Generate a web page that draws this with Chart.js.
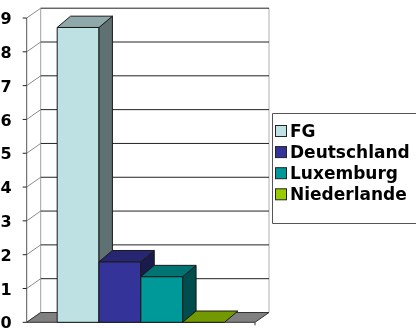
<!DOCTYPE html>
<html>
<head>
<meta charset="utf-8">
<script src="https://cdn.jsdelivr.net/npm/chart.js"></script>
<style>
  body { margin: 0; background: #fff; }
  #box { width: 416px; height: 328px; }
</style>
</head>
<body>
<div id="box"><canvas id="myBarChart"></canvas></div>
<script>
// ---------------- data ----------------
const seriesNames = ['FG', 'Deutschland', 'Luxemburg', 'Niederlande'];
const seriesValues = [8.72, 1.79, 1.35, 0];
const seriesColors = ['#bee1e4', '#333399', '#009999', '#99cc00'];
const yMin = 0;
const yMax = 9;
const yStep = 1;

// ---------------- 3d look ----------------
const WALL = { dx: 14, dy: 9.8 };
const BAR = { dx: 13.4, dy: 11.3 };

function shade(hex, f) {
    const n = parseInt(hex.slice(1), 16);
    const r = Math.round(((n >> 16) & 255) * f);
    const g = Math.round(((n >> 8) & 255) * f);
    const b = Math.round((n & 255) * f);
    return `rgb(${r},${g},${b})`;
}

function poly(ctx, pts, fill, stroke) {
    ctx.beginPath();
    ctx.moveTo(pts[0][0], pts[0][1]);
    for (let i = 1; i < pts.length; i++) ctx.lineTo(pts[i][0], pts[i][1]);
    ctx.closePath();
    if (fill) { ctx.fillStyle = fill; ctx.fill(); }
    if (stroke) { ctx.strokeStyle = stroke; ctx.lineWidth = 1; ctx.stroke(); }
}

function line(ctx, x1, y1, x2, y2, color) {
    ctx.beginPath();
    ctx.moveTo(x1, y1);
    ctx.lineTo(x2, y2);
    ctx.strokeStyle = color;
    ctx.lineWidth = 1;
    ctx.stroke();
}

const threeD = {
    id: 'threeD',
    beforeDatasetsDraw(chart) {
        const { ctx, chartArea: a, scales: { y } } = chart;
        const bx1 = a.left + WALL.dx, bx2 = a.right + WALL.dx;
        const top = y.getPixelForValue(yMax), bottom = y.getPixelForValue(yMin);
        ctx.save();
        // wall edges and the front axis line
        line(ctx, bx1, top - WALL.dy, bx1, bottom - WALL.dy, '#a0a0a0');
        line(ctx, bx2, top - WALL.dy, bx2, bottom - WALL.dy, '#b0b0b0');
        line(ctx, a.left, top, a.left, bottom, '#555');
        for (let v = yMin; v <= yMax; v += yStep) {
            const py = y.getPixelForValue(v);
            // gridline on the back wall
            line(ctx, bx1, py - WALL.dy, bx2, py - WALL.dy, '#222');
            // side wall diagonal and tick
            line(ctx, a.left, py, bx1, py - WALL.dy, '#8a8a8a');
            line(ctx, a.left - 4, py, a.left, py, '#222');
        }
        // floor
        poly(ctx, [[a.left, bottom], [a.right, bottom], [bx2, bottom - WALL.dy], [bx1, bottom - WALL.dy]], '#808080', '#333');
        line(ctx, a.right, bottom, a.right, bottom + 3, '#333');
        ctx.restore();
    },
    afterDatasetsDraw(chart) {
        const { ctx } = chart;
        ctx.save();
        // paint bars left to right so each one covers the side of the previous
        chart.data.datasets.forEach((ds, i) => {
            const el = chart.getDatasetMeta(i).data[0];
            const { x, y, base, width } = el.getProps(['x', 'y', 'base', 'width'], true);
            const l = x - width / 2, r = x + width / 2;
            const c = ds.backgroundColor;
            const edge = '#1a1a1a';
            if (base - y > 0.5) {
                poly(ctx, [[l, y], [r, y], [r, base], [l, base]], c, edge);
                poly(ctx, [[r, y], [r + BAR.dx, y - BAR.dy], [r + BAR.dx, base - BAR.dy], [r, base]], shade(c, 0.5), edge);
            }
            poly(ctx, [[l, y], [r, y], [r + BAR.dx, y - BAR.dy], [l + BAR.dx, y - BAR.dy]], shade(c, 0.75), edge);
        });
        ctx.restore();
    },
    afterDraw(chart) {
        const { ctx } = chart;
        ctx.save();
        // legend frame: top, left and bottom only, it runs off the right edge
        ctx.lineWidth = 1;
        ctx.beginPath();
        ctx.moveTo(416, 113.5);
        ctx.lineTo(272.5, 113.5);
        ctx.lineTo(272.5, 223.5);
        ctx.lineTo(416, 223.5);
        ctx.strokeStyle = '#555';
        ctx.stroke();
        ctx.font = 'bold 17px "DejaVu Sans"';
        ctx.textBaseline = 'alphabetic';
        chart.data.datasets.forEach((ds, i) => {
            const base = 137 + i * 21.1;
            ctx.fillStyle = ds.backgroundColor;
            ctx.fillRect(275.5, base - 11.5, 11, 11);
            ctx.strokeStyle = '#222';
            ctx.strokeRect(275.5, base - 11.5, 11, 11);
            ctx.fillStyle = '#000';
            ctx.fillText(ds.label, 290, base);
        });
        ctx.restore();
    }
};

const ctx = document.getElementById('myBarChart').getContext('2d');

new Chart(ctx, {
    type: 'bar',
    data: {
        labels: [''],
        datasets: seriesNames.map((name, i) => ({
            label: name,
            data: [seriesValues[i]],
            backgroundColor: seriesColors[i],
            borderWidth: 0
        }))
    },
    options: {
        responsive: true,
        maintainAspectRatio: false,
        animation: false,
        categoryPercentage: 0.733,
        barPercentage: 1,
        layout: {
            padding: { left: 0, right: 161, top: 18, bottom: 5.7 }
        },
        scales: {
            x: { display: false },
            y: {
                min: yMin,
                max: yMax,
                grid: { display: false },
                border: { display: false },
                ticks: {
                    stepSize: yStep,
                    padding: 7,
                    labelOffset: 2,
                    color: '#000',
                    font: { family: 'DejaVu Sans', weight: 'bold', size: 16 }
                },
                afterFit(scale) {
                    scale.width = 26.7;
                    scale.paddingTop = 0;
                    scale.paddingBottom = 0;
                }
            }
        },
        plugins: {
            legend: { display: false },
            tooltip: { enabled: false }
        }
    },
    plugins: [threeD]
});
</script>
</body>
</html>
